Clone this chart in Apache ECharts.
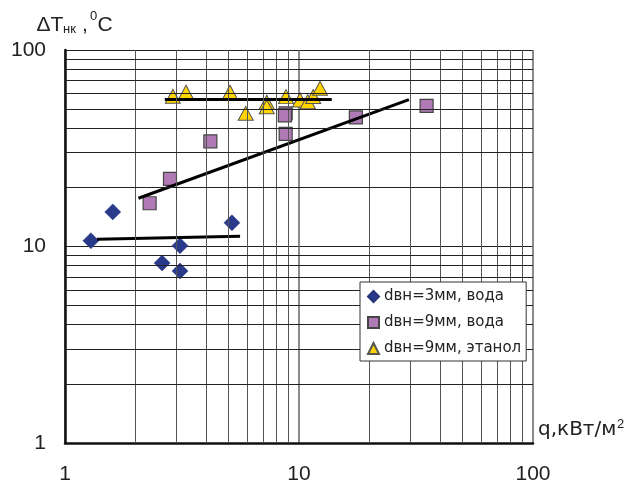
<!DOCTYPE html>
<html>
<head>
<meta charset="utf-8">
<script src="https://cdn.jsdelivr.net/npm/echarts@6/dist/echarts.min.js"></script>
<style>
html,body{margin:0;padding:0;background:#fff;}
#chart{width:628px;height:485px;}
</style>
</head>
<body>
<div id="chart"></div>
<script>
// ---- data ----
const seriesNames = ['dвн=3мм, вода', 'dвн=9мм, вода', 'dвн=9мм, этанол'];

const d3waterQ  = [1.29, 1.60, 2.60, 3.10, 3.10, 5.17];
const d3waterT  = [10.7, 15.0, 8.24, 10.1, 7.5, 13.2];

const d9waterQ  = [2.30, 2.81, 4.18, 8.77, 8.77, 8.70, 17.5, 35.1];
const d9waterT  = [16.6, 22.1, 34.3, 37.4, 47.6, 46.5, 45.4, 51.9];

const d9ethQ    = [2.89, 3.29, 5.07, 5.92, 7.28, 7.28, 8.80, 10.1, 10.9, 11.5, 12.3];
const d9ethT    = [58.1, 60.9, 60.9, 47.6, 54.2, 51.4, 57.9, 55.7, 54.6, 58.0, 63.8];

// trend lines (end points)
const fit3Q = [1.37, 5.6],  fit3T = [10.9, 11.27];
const fit9Q = [2.06, 29.5], fit9T = [17.6, 55.9];
const fitEQ = [2.67, 13.8], fitET = [56.0, 56.0];

// axis ranges / grid values
const axisMin = 1, axisMax = 100;
const minorGrid = [2,3,4,5,6,7,8,9,20,30,40,50,60,70,80,90];

function pairs(xs, ys){ return xs.map((x,i)=>[x, ys[i]]); }

const chart = echarts.init(document.getElementById('chart'), null, {renderer:'canvas'});
const FONT = 'Liberation Sans, Arial, sans-serif';
const WIDE = 'DejaVu Sans, sans-serif';

const gridLines = minorGrid.map(v => ({xAxis: v, lineStyle:{color:'#555', width:1, type:'solid'}}))
  .concat(minorGrid.map(v => ({yAxis: v, lineStyle:{color:'#222', width:1, type:'solid'}})));

const fitStyle = {color:'#000', width:3};

chart.setOption({
  animation:false,
  backgroundColor:'#fff',
  grid:{left:65, top:50, width:468, height:393, containLabel:false},
  xAxis:{
    type:'log', logBase:10, min:axisMin, max:axisMax,
    axisLine:{show:true, onZero:false, lineStyle:{color:'#111', width:2.5}},
    axisTick:{show:false},
    axisLabel:{fontSize:21, color:'#222', fontFamily:FONT, margin:21},
    splitLine:{show:true, lineStyle:{color:'#666', width:1.5}}
  },
  yAxis:{
    type:'log', logBase:10, min:axisMin, max:axisMax,
    axisLine:{show:true, onZero:false, lineStyle:{color:'#111', width:2.5}},
    axisTick:{show:false},
    axisLabel:{fontSize:21, color:'#222', fontFamily:FONT, margin:19},
    splitLine:{show:true, lineStyle:{color:'#222', width:1.2}}
  },
  legend:{
    orient:'vertical', left:360, top:282, z:20,
    data:[
      {name:seriesNames[0], icon:'diamond'},
      {name:seriesNames[1], icon:'rect'},
      {name:seriesNames[2], icon:'triangle'}
    ],
    itemWidth:11, itemHeight:11, itemGap:9,
    padding:[6,5,4,7],
    backgroundColor:'#fff', borderColor:'#333', borderWidth:1, borderRadius:0,
    textStyle:{fontSize:15, color:'#222', fontFamily:WIDE, lineHeight:17}
  },
  graphic:[
    {type:'text', x:36.5, y:25.5, style:{text:'ΔT', font:'21px '+FONT, fill:'#222', verticalAlign:'middle'}},
    {type:'text', x:63, y:29, style:{text:'нк', font:'13px '+FONT, fill:'#222', verticalAlign:'middle'}},
    {type:'text', x:82, y:25.5, style:{text:',', font:'21px '+FONT, fill:'#222', verticalAlign:'middle'}},
    {type:'text', x:90, y:16.5, style:{text:'0', font:'13px '+FONT, fill:'#222', verticalAlign:'middle'}},
    {type:'text', x:97.5, y:25.5, style:{text:'C', font:'21px '+FONT, fill:'#222', verticalAlign:'middle'}},
    {type:'text', x:538, y:430, style:{text:'q,кВт/м', font:'20px '+WIDE, fill:'#222', verticalAlign:'middle'}},
    {type:'text', x:617, y:424.5, style:{text:'2', font:'13px '+FONT, fill:'#222', verticalAlign:'middle'}}
  ],
  series:[
    {
      type:'scatter', name:'grid', data:[], silent:true, z:1,
      markLine:{silent:true, symbol:['none','none'], label:{show:false}, animation:false,
        lineStyle:{type:'solid'}, emphasis:{disabled:true}, data:gridLines}
    },
    {
      type:'scatter', name:seriesNames[0], data:pairs(d3waterQ, d3waterT),
      symbol:'diamond', symbolSize:[16,16], z:3,
      itemStyle:{color:'#2a3a8a', borderColor:'#24337a', borderWidth:0.5, opacity:1}
    },
    {
      type:'scatter', name:seriesNames[1], data:pairs(d9waterQ, d9waterT),
      symbol:'rect', symbolSize:13, z:3,
      itemStyle:{color:'#b07ab6', borderColor:'#444', borderWidth:1.2, opacity:1}
    },
    {
      type:'scatter', name:seriesNames[2], data:pairs(d9ethQ, d9ethT),
      symbol:'triangle', symbolSize:[15,14], z:3,
      itemStyle:{color:'#ffd400', borderColor:'#555', borderWidth:1, opacity:1}
    },
    {type:'line', name:'fit1', data:pairs(fit3Q, fit3T), showSymbol:false, symbol:'none', z:4, lineStyle:fitStyle, silent:true},
    {type:'line', name:'fit2', data:pairs(fit9Q, fit9T), showSymbol:false, symbol:'none', z:4, lineStyle:fitStyle, silent:true},
    {type:'line', name:'fit3', data:pairs(fitEQ, fitET), showSymbol:false, symbol:'none', z:4, lineStyle:fitStyle, silent:true}
  ]
});
</script>
</body>
</html>
